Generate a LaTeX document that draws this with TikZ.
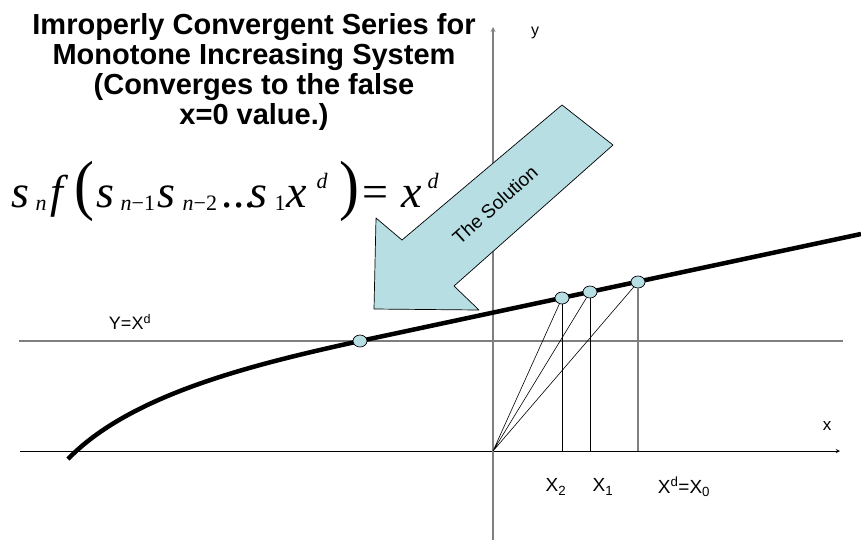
\documentclass[tikz,border=0pt]{standalone}
\usepackage{graphicx}
\usepackage[no-math]{fontspec}
\setmainfont{Liberation Sans}
\newfontfamily\eqfont{Liberation Serif}
\usetikzlibrary{shapes.geometric}
\definecolor{dotblue}{HTML}{B7DEE3}
\definecolor{axisgray}{HTML}{7F7F7F}
\newcommand\piece[2]{\rlap{\hspace*{#1pt}#2}}
\newcommand\lowsub[1]{\raisebox{-3pt}{\fontsize{22}{24}\selectfont #1}}
\newcommand\highsup[1]{\raisebox{19pt}{\fontsize{22}{24}\selectfont #1}}
\newcommand\tallparen[1]{\scalebox{1.3}[1.45]{\upshape #1}}
\tikzset{
	pt/.style={ellipse, draw=black, fill=dotblue, line width=0.7pt, minimum width=14pt, minimum height=12pt, inner sep=0pt},
	ray/.style={black, line width=0.6pt},
	lbl/.style={font=\fontsize{19}{22}\selectfont, inner sep=0pt}
}
\begin{document}
\begin{tikzpicture}[x=1pt, y=-1pt, >=stealth, line join=round]
	\useasboundingbox (0,0) rectangle (861,542);
	\def\ox{493} \def\oy{451} % origin
	\def\hy{341} % level of Y=X^d
	\coordinate (O) at (\ox,\oy);
	% axes
	\draw[->, line width=0.9pt] (20,\oy)--(840,\oy);
	\node[lbl, font=\fontsize{17}{20}\selectfont] (xlab) at (827,426) {x};
	\draw[->, axisgray, line width=1.2pt] (\ox,540)--(\ox,27);
	\node[lbl, font=\fontsize{16}{18}\selectfont] (ylab) at (535,33) {y};
	\draw[axisgray, line width=1.1pt] (19,\hy)--(843,\hy);
	\node[lbl, font=\fontsize{18}{20}\selectfont] (hlab) at (130,322) {Y=X\textsuperscript{d}};
	% the curve
	\draw[line width=4.5pt] (68,459) .. controls (130,395) and (250,365) .. (360,341) -- (861,234);
	% the big arrow
	\draw[fill=dotblue, line width=0.7pt] (562,105) -- (613,145) -- (454,286) -- (479,310) -- (374,309) -- (376,218) -- (402,240) -- cycle;
	\node[rotate=42, font=\fontsize{19}{21}\selectfont, inner sep=0pt] (sol) at (495,205) {The Solution};
	% points on the curve
	\node[pt] (p) at (360,\hy) {};
	\node[pt] (p2) at (562,298) {};
	\node[pt] (p1) at (590,292) {};
	\node[pt] (p0) at (638,282) {};
	\coordinate (f2) at (562,\oy);
	\coordinate (f1) at (590,\oy);
	\coordinate (f0) at (638,\oy);
	\draw[ray] (O)--(p2) (O)--(p1) (O)--(p0);
	\draw[ray] (p2)--(f2) (p1)--(f1);
	\draw[axisgray, line width=1.1pt] (p0)--(f0);
	\node[lbl] (x2) at (556,487) {X\textsubscript{2}};
	\node[lbl] (x1) at (603,487) {X\textsubscript{1}};
	\node[lbl] (x0) at (684,487) {X\textsuperscript{d}=X\textsubscript{0}};
	% title and formula
	\node[align=center, font=\bfseries\fontsize{29}{30.3}\selectfont, inner sep=0pt] (title) at (254,72)
		{Imroperly Convergent Series for\\Monotone Increasing System\\(Converges to the false\\x=0 value.)};
	\node[anchor=base west, inner sep=0pt, font=\eqfont\itshape\fontsize{46}{50}\selectfont] (eq) at (0,207)
		{\piece{11}{s}\piece{35}{\lowsub{n}}\piece{50}{f}\piece{74}{\tallparen{(}}%
		\piece{96}{s}\piece{120}{\lowsub{n{\upshape −1}}}\piece{157}{s}\piece{182}{\lowsub{n{\upshape −2}}}%
		\piece{222}{...}\piece{249}{s}\piece{274}{\lowsub{\upshape 1}}\piece{286}{x}\piece{316}{\highsup{d}}%
		\piece{339}{\tallparen{)}}\piece{362}{\upshape =}\piece{401}{x}\piece{427}{\highsup{d}}};
\end{tikzpicture}
\end{document}
